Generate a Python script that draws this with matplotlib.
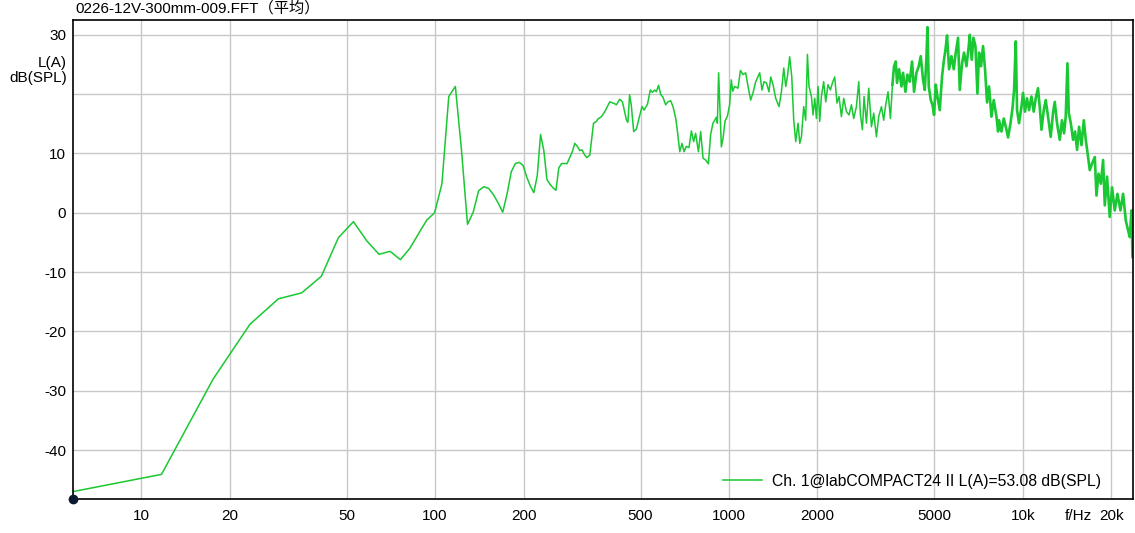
import matplotlib
matplotlib.use('Agg')
import matplotlib.pyplot as plt
import matplotlib.transforms as mtransforms
from matplotlib.ticker import FixedLocator, NullLocator

plt.rcParams['font.family'] = ['Liberation Sans', 'Noto Sans CJK SC']

title = '0226-12V-300mm-009.FFT（平均）'
legend_text = 'Ch. 1@labCOMPACT24 II L(A)=53.08 dB(SPL)'

# low end: plain FFT bins (5.86 Hz apart)
freq_low = [5.86, 11.72, 17.58, 23.44, 29.30, 35.16, 41.02, 46.88, 52.73, 58.59,
            64.45, 70.31, 76.17, 82.03, 87.89, 93.75, 99.61, 105.5, 111.3, 117.2,
            123.0, 128.9, 134.8, 140.6, 146.5, 152.3, 158.2, 164.1, 169.9, 175.8,
            181.6, 187.5, 193.4, 199.2, 205.1, 210.9, 216.8, 222.7, 228.5, 234.4,
            240.2, 246.1, 252.0, 257.8, 263.7, 269.5, 275.4, 281.3, 287.1, 293.0,
            298.8, 304.7, 310.5, 316.4, 322.3, 328.1]
level_low = [-47.0, -44.1, -28.0, -18.8, -14.5, -13.5, -10.7, -4.2, -1.5, -4.75,
             -7.0, -6.5, -7.9, -6.0, -3.5, -1.2, 0.0, 4.9, 19.6, 21.3,
             10.5, -1.95, 0.1, 3.7, 4.4, 4.1, 3.0, 1.6, 0.1, 3.2,
             6.9, 8.3, 8.5, 8.0, 6.0, 4.5, 3.4, 6.3, 13.2, 10.5,
             5.6, 4.8, 4.2, 3.8, 7.6, 8.3, 8.3, 8.3, 9.3, 10.3,
             11.7, 11.2, 10.5, 10.6, 9.8, 9.3]

# mid band
freq_mid = [336, 346, 354, 358, 368, 378, 393, 408, 414, 425, 434, 448, 453, 459, 465,
            474, 484, 494, 506, 514, 528, 540, 549, 559, 566, 576, 586, 596, 609, 620,
            633, 645, 659, 667, 680, 692, 703, 716, 731, 745, 758, 770, 787, 801, 816,
            833, 851, 866, 882, 894, 906, 913, 922, 932, 942, 954, 970, 988, 1005, 1018,
            1030, 1045, 1073, 1094, 1116, 1140, 1161, 1185, 1207, 1233, 1272, 1295, 1316, 1341, 1368,
            1387, 1412, 1442, 1480, 1508, 1536, 1560, 1581, 1609, 1635, 1661, 1687, 1718, 1741, 1764,
            1796, 1824, 1849, 1872, 1908, 1932, 1958, 1984, 2009, 2036, 2063, 2100, 2134, 2172, 2214,
            2249, 2290, 2331, 2368, 2413, 2457, 2510, 2561, 2610, 2657, 2714, 2764, 2801, 2845, 2881,
            2936, 2989, 3053, 3108, 3175, 3232, 3302, 3361, 3414, 3477, 3543, 3599]
level_mid = [9.7, 15.1, 15.4, 15.8, 16.2, 17.05, 18.7, 18.4, 18.2, 19.15, 18.7, 15.6, 15.25, 19.9, 18.2,
             13.7, 14.1, 15.9, 17.9, 17.3, 18.3, 20.7, 20.3, 20.7, 20.4, 21.5, 19.9, 19.5, 18.2, 18.7,
             18.9, 17.9, 15.9, 13.9, 10.3, 11.7, 10.3, 11.2, 11.0, 13.8, 12.0, 13.4, 10.3, 13.7, 9.2,
             8.9, 8.25, 13.2, 15.1, 15.6, 16.1, 15.1, 23.6, 17.3, 11.1, 12.5, 15.5, 16.3, 18.2, 22.4,
             20.5, 21.3, 21.0, 24.0, 23.3, 23.6, 21.3, 19.0, 20.2, 22.1, 23.6, 20.7, 22.1, 21.9, 20.4,
             22.9, 21.6, 19.3, 17.9, 20.4, 24.4, 21.3, 23.0, 26.3, 23.0, 15.6, 12.0, 15.1, 11.7, 12.8,
             17.9, 15.6, 26.7, 21.3, 19.6, 16.5, 19.3, 15.9, 21.3, 15.4, 19.6, 22.1, 18.7, 21.6, 20.7,
             21.9, 22.9, 18.5, 19.6, 16.2, 19.3, 17.05, 16.5, 18.2, 15.9, 17.9, 22.1, 16.5, 14.0, 19.6,
             15.1, 21.0, 14.5, 16.8, 12.8, 16.2, 17.9, 15.6, 18.2, 20.4, 15.9, 21.6]

# top band, where the trace gets dense
freq_high = [3599, 3644, 3693, 3731, 3790, 3862,
             3911, 3985, 4048, 4121, 4197, 4263, 4344, 4423, 4493, 4575, 4637, 4699, 4736, 4784, 4860,
             4925, 4987, 5053, 5121, 5214, 5309, 5380, 5453, 5521, 5609, 5715, 5819, 5911, 6018, 6099,
             6209, 6307, 6427, 6544, 6595, 6699, 6789, 6896, 7005, 7094, 7206, 7320, 7435, 7553, 7672,
             7818, 7960, 8130, 8234, 8299, 8457, 8610, 8795, 8905, 9075, 9218, 9333, 9459, 9555, 9705,
             9890, 10014, 10170, 10330, 10495, 10695, 10890, 11060, 11260, 11410, 11570, 11780, 11960, 12180, 12440,
             12660, 12840, 13070, 13350, 13590, 13810, 13990, 14180, 14330, 14560, 14820, 15050, 15290, 15530, 15830,
             16120, 16370, 16670, 16890, 17200, 17570, 17800, 18090, 18420, 18750, 19000, 19340, 19750, 20110, 20540,
             20980, 21480, 21930, 22400, 22800, 23110, 23420, 23600]
level_high = [21.6, 24.7, 25.5, 21.9, 24.2, 21.3,
              23.6, 20.4, 23.3, 22.1, 25.5, 20.4, 23.6, 24.7, 26.4, 22.4, 20.7, 26.4, 31.3, 21.3, 19.0,
              18.2, 16.5, 21.6, 19.6, 17.3, 23.0, 25.5, 27.5, 29.9, 24.2, 26.4, 24.2, 27.0, 29.5, 20.7,
              25.2, 27.0, 24.7, 28.1, 30.0, 25.8, 29.5, 28.1, 20.1, 27.0, 24.7, 28.1, 24.2, 18.6, 21.3,
              16.2, 19.0, 16.2, 13.7, 15.6, 13.7, 15.9, 14.0, 12.7, 15.1, 17.6, 20.7, 28.9, 17.3, 15.1,
              17.9, 20.2, 17.05, 19.3, 17.3, 19.6, 17.05, 19.3, 21.0, 17.9, 14.0, 17.3, 19.0, 16.2, 12.8,
              16.8, 18.7, 15.1, 12.3, 15.6, 13.4, 16.2, 25.2, 16.8, 15.1, 12.3, 13.7, 10.6, 14.5, 11.4,
              15.6, 12.3, 9.4, 7.2, 8.3, 9.4, 2.9, 6.6, 4.9, 8.9, 1.25, 6.1, -0.7, 4.3, 0.4,
              3.2, 0.4, 3.2, -1.3, -2.95, -4.1, 0.4, -7.45]

x_ticks = [10, 20, 50, 100, 200, 500, 1000, 2000, 5000, 10000, 20000]
x_labels = ['10', '20', '50', '100', '200', '500', '1000', '2000', '5000', '10k', '20k']
y_ticks = [30, 20, 10, 0, -10, -20, -30, -40]
y_labels = ['30', '', '10', '0', '-10', '-20', '-30', '-40']

green = '#19c832'
fs = 11
xpad = 7

fig = plt.figure(figsize=(11.35, 5.33), dpi=100)
ax = fig.add_axes([73 / 1135, 33.7 / 533, 1060 / 1135, 479.3 / 533])

ax.plot(freq_low + freq_mid, level_low + level_mid, color=green, lw=1.1, label=legend_text)
# dense part of the trace looks like a thick band in the original
ax.plot(freq_high, level_high, color=green, lw=1.9)

ax.set_xscale('log')
ax.set_xlim(5.86, 23700)
ax.set_ylim(-48.3, 32.5)
ax.xaxis.set_major_locator(FixedLocator(x_ticks))
ax.xaxis.set_minor_locator(NullLocator())
ax.set_xticklabels(x_labels)
ax.set_yticks(y_ticks)
ax.set_yticklabels(y_labels)
ax.tick_params(axis='x', length=0, pad=xpad, labelsize=fs)
ax.tick_params(axis='y', length=0, pad=5, labelsize=fs)
ax.grid(True, color='#c8c8c8', lw=1)
ax.set_axisbelow(True)
for s in ax.spines.values():
    s.set_color('black')
    s.set_linewidth(1.2)

# axis unit labels sit in the tick label rows
ty = mtransforms.blended_transform_factory(ax.transAxes, ax.transData)
ax.text(-0.006, 24.0, 'L(A)\ndB(SPL)', transform=ty, ha='right', va='center',
        fontsize=fs, linespacing=1.1)
tx = mtransforms.blended_transform_factory(ax.transData, ax.transAxes)
ax.annotate('f/Hz', xy=(15500, 0), xycoords=tx, xytext=(0, -xpad),
            textcoords='offset points', ha='center', va='top', fontsize=fs)

ax.plot([0], [0], 'o', transform=ax.transAxes, color='#0c1a30', ms=6,
        clip_on=False, zorder=5)

ax.legend(loc='center right', bbox_to_anchor=(0.97, 0.038), frameon=False,
          handlelength=2.5, handletextpad=0.65, borderpad=0, borderaxespad=0,
          prop={'size': 11.3})

fig.text(75 / 1135, 1 - 8 / 533, title, ha='left', va='center', fontsize=fs)

fig.savefig('out.png', dpi=100)
